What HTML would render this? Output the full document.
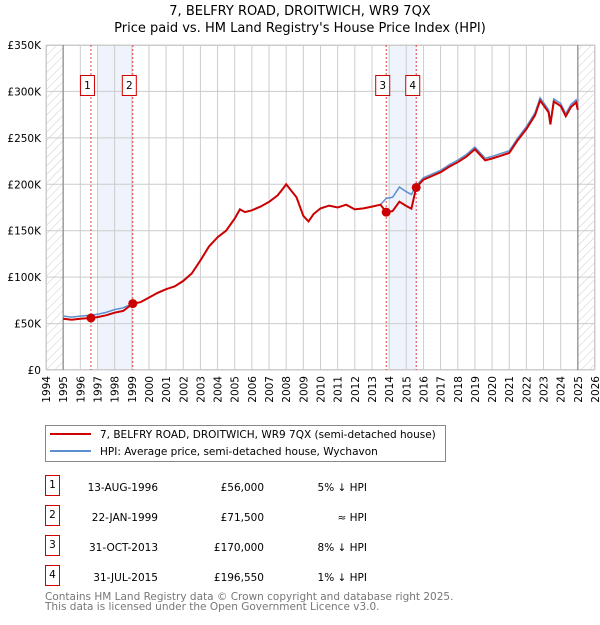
<!DOCTYPE html>
<html><head><meta charset="utf-8"><style>
body{margin:0;background:#fff;font-family:"Liberation Sans","DejaVu Sans",sans-serif;}
svg text{font-family:"DejaVu Sans","Liberation Sans",sans-serif;}
</style></head><body>
<svg id="chart" width="600" height="620" viewBox="0 0 600 620" xmlns="http://www.w3.org/2000/svg">
<defs><pattern id="hatch" width="6" height="6" patternUnits="userSpaceOnUse" patternTransform="rotate(45)"><line x1="0" y1="0" x2="0" y2="6" stroke="#ccc" stroke-width="1"/></pattern></defs>
<text x="300" y="15" text-anchor="middle" font-size="13">7, BELFRY ROAD, DROITWICH, WR9 7QX</text>
<text x="300" y="32" text-anchor="middle" font-size="13">Price paid vs. HM Land Registry's House Price Index (HPI)</text>
<g id="plot"></g>
<g>
<rect x="45.5" y="425.5" width="400" height="36" fill="#fff" stroke="#888"/>
<line x1="50" y1="434" x2="91" y2="434" stroke="#cc0000" stroke-width="2"/>
<text x="100" y="438" font-size="10.5">7, BELFRY ROAD, DROITWICH, WR9 7QX (semi-detached house)</text>
<line x1="50" y1="451" x2="91" y2="451" stroke="#5b8fd0" stroke-width="2"/>
<text x="100" y="455" font-size="10.5">HPI: Average price, semi-detached house, Wychavon</text>
</g>
<g id="table"></g>
<text x="45" y="600" font-size="10.5" fill="#777">Contains HM Land Registry data © Crown copyright and database right 2025.</text>
<text x="45" y="610" font-size="10.5" fill="#777">This data is licensed under the Open Government Licence v3.0.</text>
</svg>
<script>
const hpiYears=[1995,1995.5,1996,1996.6,1997,1997.5,1998,1998.5,1999.06,1999.5,2000,2000.5,2001,2001.5,2002,2002.5,2003,2003.5,2004,2004.5,2005,2005.3,2005.6,2006,2006.5,2007,2007.5,2007.8,2008,2008.3,2008.6,2009,2009.3,2009.6,2010,2010.5,2011,2011.5,2012,2012.5,2013,2013.5,2013.83,2014.2,2014.6,2015,2015.3,2015.58,2016,2016.5,2017,2017.5,2018,2018.5,2019,2019.6,2020,2020.5,2021,2021.5,2022,2022.5,2022.8,2023,2023.3,2023.4,2023.6,2024,2024.3,2024.6,2024.9,2025];
const hpiValues=[58,57,58,58.9,60,62,65,67,71.5,73,78,83,87,90,96,104,118,133,143,150,163,173,170,172,176,181,188,195,200,193,186,166,160,168,174,177,175,178,173,174,176,178,184.8,186,197,192,189,198.5,207,211,215,221,226,232,240,228,230,233,236,250,262,277,293,288,280,267,292,287,276,286,291,283];
const saleLabels=["1","2","3","4"];
const saleYears=[1996.62,1999.06,2013.83,2015.58];
const salePrices=[56000,71500,170000,196550];
const saleDates=["13-AUG-1996","22-JAN-1999","31-OCT-2013","31-JUL-2015"];
const saleNotes=["5% ↓ HPI","≈ HPI","8% ↓ HPI","1% ↓ HPI"];
const yTicks=[0,50,100,150,200,250,300,350];
const yTickLabels=["£0","£50K","£100K","£150K","£200K","£250K","£300K","£350K"];
const xTicks=[1994,1995,1996,1997,1998,1999,2000,2001,2002,2003,2004,2005,2006,2007,2008,2009,2010,2011,2012,2013,2014,2015,2016,2017,2018,2019,2020,2021,2022,2023,2024,2025,2026];

const L=46,R=595,T=45,B=370;
const X=y=>L+(y-1994)/32*(R-L);
const Y=v=>B-v/350*(B-T);
const NS="http://www.w3.org/2000/svg";
const plot=document.getElementById('plot');
function mk(tag,attrs,parent){const e=document.createElementNS(NS,tag);for(const k in attrs)e.setAttribute(k,attrs[k]);(parent||plot).appendChild(e);return e;}
function hpiAt(t){for(let i=0;i<hpiYears.length-1;i++){if(t<=hpiYears[i+1]){const f=(t-hpiYears[i])/(hpiYears[i+1]-hpiYears[i]);return hpiValues[i]+f*(hpiValues[i+1]-hpiValues[i]);}}return hpiValues[hpiValues.length-1];}

mk('rect',{x:L,y:T,width:R-L,height:B-T,fill:'#fff'});
mk('rect',{x:L,y:T,width:X(1995)-L,height:B-T,fill:'url(#hatch)'});
mk('rect',{x:X(2025),y:T,width:R-X(2025),height:B-T,fill:'url(#hatch)'});
mk('rect',{x:X(1997),y:T,width:X(saleYears[1])-X(1997),height:B-T,fill:'#eef3fc'});
mk('rect',{x:X(2014),y:T,width:X(saleYears[3])-X(2014),height:B-T,fill:'#eef3fc'});
xTicks.forEach(t=>{const l=mk('line',{x1:X(t),x2:X(t),y1:T,y2:B,stroke:'#ccc','stroke-width':1});

const tx=mk('text',{x:0,y:0,'font-size':10.5,'text-anchor':'end',transform:`translate(${X(t)+4},${B+6}) rotate(-90)`});tx.textContent=t;
});
yTicks.forEach((v,i)=>{const l=mk('line',{x1:L,x2:R,y1:Y(v),y2:Y(v),stroke:'#ccc','stroke-width':1});

const tx=mk('text',{x:L-5,y:Y(v)+4,'font-size':10.5,'text-anchor':'end'});tx.textContent=yTickLabels[i];
});
mk('rect',{x:L+0.5,y:T+0.5,width:R-L-1,height:B-T-1,fill:'none',stroke:'#ccc'});
mk('line',{x1:X(1995),x2:X(1995),y1:T,y2:B,stroke:'#888','stroke-width':1.2});
mk('line',{x1:X(2025),x2:X(2025),y1:T,y2:B,stroke:'#888','stroke-width':1.2});
saleYears.forEach((s,i)=>{const l=mk('line',{x1:X(s),x2:X(s),y1:T,y2:B,stroke:'#e04040','stroke-width':1,'stroke-dasharray':'2,2'});

const g=mk('g',{});
mk('rect',{x:X(s)-10.5,y:75.5,width:14,height:20,fill:'#fff',stroke:'#cc0000'},g);
const tx=mk('text',{x:X(s)-3.5,y:89,'font-size':10.5,'text-anchor':'middle'},g);tx.textContent=saleLabels[i];});
const hp=mk('path',{d:hpiYears.map((t,i)=>(i?'L':'M')+X(t).toFixed(1)+','+Y(hpiValues[i]).toFixed(1)).join(''),fill:'none',stroke:'#5b8fd0','stroke-width':1.5});

const ts=[];hpiYears.forEach(t=>ts.push(t));saleYears.forEach(t=>ts.push(t,t+0.001));ts.sort((a,b)=>a-b);
const pts=ts.filter(t=>t>=1995&&t<=2025).map(t=>{let k=0;for(let j=0;j<saleYears.length;j++)if(t>=saleYears[j])k=j;
return [t,salePrices[k]/1000*hpiAt(t)/hpiAt(saleYears[k])];});
const pp=mk('path',{d:pts.map((p,i)=>(i?'L':'M')+X(p[0]).toFixed(1)+','+Y(p[1]).toFixed(1)).join(''),fill:'none',stroke:'#cc0000','stroke-width':2});

saleYears.forEach((s,i)=>{const c=mk('circle',{cx:X(s),cy:Y(salePrices[i]/1000),r:4.5,fill:'#cc0000'});
});
const tb=document.getElementById('table');
saleLabels.forEach((s,i)=>{const y0=475+i*30;
const g=mk('g',{},tb);
mk('rect',{x:45.5,y:y0+0.5,width:14,height:20,fill:'#fff',stroke:'#cc0000'},g);
let t=mk('text',{x:52.5,y:y0+13,'font-size':10.5,'text-anchor':'middle'},g);t.textContent=s;
t=mk('text',{x:158,y:y0+16,'font-size':10.5,'text-anchor':'end'},g);t.textContent=saleDates[i];
t=mk('text',{x:264,y:y0+16,'font-size':10.5,'text-anchor':'end'},g);t.textContent='£'+salePrices[i].toLocaleString('en-GB');
t=mk('text',{x:367,y:y0+16,'font-size':10.5,'text-anchor':'end'},g);t.textContent=saleNotes[i];});
</script>
</body></html>
